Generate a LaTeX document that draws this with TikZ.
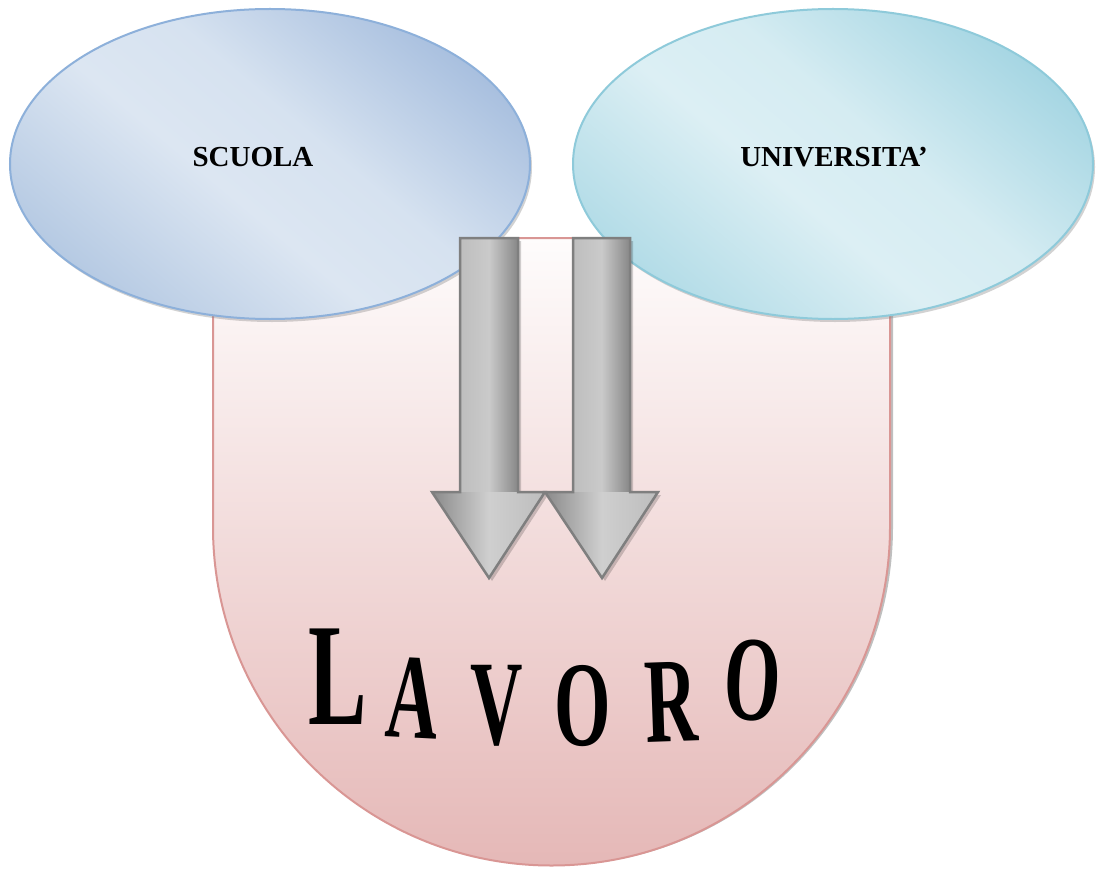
\documentclass[tikz,border=0pt]{standalone}
\usepackage{fontspec}
\setmainfont{Liberation Serif}
\usetikzlibrary{shapes.geometric,shadows}
\definecolor{scdark}{HTML}{A9C0DF}
\definecolor{scmid}{HTML}{B6CAE3}
\definecolor{sclight}{HTML}{DCE6F2}
\definecolor{sclight2}{HTML}{D6E2F0}
\definecolor{scborder}{HTML}{8DB0DA}
\definecolor{undark}{HTML}{A6D6E3}
\definecolor{unmid}{HTML}{B3DCE7}
\definecolor{unlight}{HTML}{DCEFF4}
\definecolor{unlight2}{HTML}{D5ECF2}
\definecolor{unborder}{HTML}{8ECADA}
\definecolor{pktop}{HTML}{FEFCFC}
\definecolor{pkbot}{HTML}{E5B8B7}
\definecolor{pkborder}{HTML}{D99694}
\definecolor{agA}{HTML}{BEBEBE}
\definecolor{agB}{HTML}{CACACA}
\definecolor{agC}{HTML}{878787}
\definecolor{agD}{HTML}{8A8A8A}
\definecolor{agE}{HTML}{CFCFCF}
\definecolor{agF}{HTML}{BDBDBD}
\definecolor{arrowline}{HTML}{7F7F7F}
\pgfdeclareverticalshading{scshade}{100bp}{color(0bp)=(scmid); color(25bp)=(scmid); color(44bp)=(sclight); color(56bp)=(sclight2); color(75bp)=(scdark); color(100bp)=(scdark)}
\pgfdeclareverticalshading{unshade}{100bp}{color(0bp)=(unmid); color(25bp)=(unmid); color(44bp)=(unlight); color(56bp)=(unlight2); color(75bp)=(undark); color(100bp)=(undark)}
\newcommand\lavletter[2]{\scalebox{0.6}[1]{\fontsize{#1}{#1}\selectfont\bfseries #2}}
\newcommand\grayarrow[5]{% shaft left, shaft right, head left, head right, tip x
  \fill[black,opacity=.18] (#1+3,241) -- (#2+3,241) -- (#2+3,495) -- (#4+3,495) -- (#5+3,581) -- (#3+3,495) -- (#1+3,495) -- cycle;
  \shade[left color=agA, right color=agC, middle color=agB] (#1,238) rectangle (#2,492);
  \shade[left color=agD, right color=agF, middle color=agE] (#3,492) -- (#4,492) -- (#5,578) -- cycle;
  \draw[arrowstroke] (#1,238) -- (#2,238) -- (#2,492) -- (#4,492) -- (#5,578) -- (#3,492) -- (#1,492) -- cycle;
}
\tikzset{
  oval/.style={ellipse, inner sep=0pt, minimum width=520pt, minimum height=310pt, line width=2pt,
    drop shadow={shadow xshift=2pt, shadow yshift=-3pt, opacity=.35}},
  scuolaoval/.style={oval, draw=scborder, shading=scshade, shading angle=-40},
  unioval/.style={oval, draw=unborder, shading=unshade, shading angle=-40},
  arrowstroke/.style={draw=arrowline, line width=2.5pt, line join=miter},
  lav/.style={inner sep=0pt, anchor=center},
  ovaltext/.style={font=\fontsize{29}{29}\selectfont\bfseries}
}
\begin{document}
\begin{tikzpicture}[x=1pt,y=-1pt]
\useasboundingbox (0,0) rectangle (1099,869);
\fill[white] (0,0) rectangle (1099,869);
% U shaped background
\fill[black,opacity=.25] (216,242) -- (216,527) arc (180:0:338.5) -- (893,242) -- cycle;
\shade[top color=pktop, bottom color=pkbot, draw=pkborder, line width=2pt]
  (213,238) -- (213,527) arc (180:0:338.5) -- (890,238) -- cycle;
% ovals
\node[scuolaoval] (scuola) at (270,164) {};
\node[unioval] (uni) at (833,164) {};
\node[ovaltext] (scuolatxt) at (253,157) {SCUOLA};
\node[ovaltext] (unitxt) at (834,157) {UNIVERSITA’};
% arrows
\grayarrow{460}{518}{432}{545}{489}
\grayarrow{573}{630}{545}{658}{602}
% LAVORO
\node[lav, rotate=0] (l1) at (338,677) {\lavletter{146}{L}};
\node[lav, rotate=-3] (l2) at (413,698) {\lavletter{121}{A}};
\node[lav, rotate=0] (l3) at (497,706) {\lavletter{121}{V}};
\node[lav, rotate=0] (l4) at (583,706) {\lavletter{121}{O}};
\node[lav, rotate=2] (l5) at (671,702) {\lavletter{121}{R}};
\node[lav, rotate=-3] (l6) at (753,681) {\lavletter{121}{O}};
\end{tikzpicture}
\end{document}
